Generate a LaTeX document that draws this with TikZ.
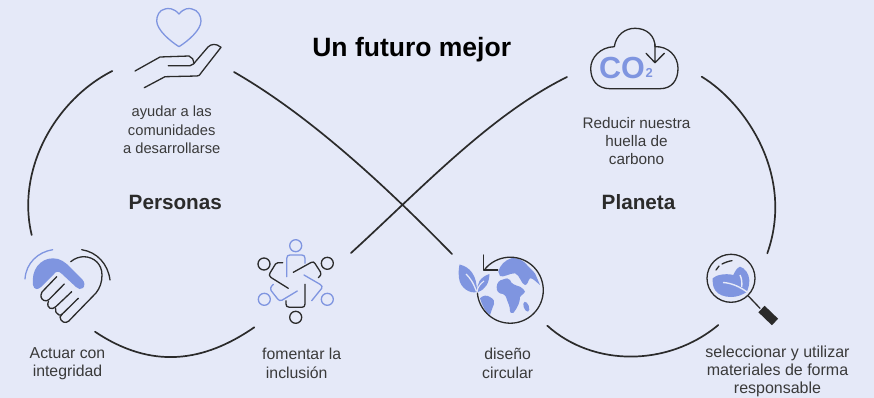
\documentclass[tikz,border=0pt]{standalone}
\usepackage{fontspec}
\setmainfont{Liberation Sans}
\definecolor{bg}{HTML}{E5E9F8}
\definecolor{blu}{HTML}{7F95E0}
\definecolor{ink}{HTML}{2B2B2B}
\definecolor{txt}{HTML}{3A3A3A}
\tikzset{
  arcline/.style={draw=ink,line width=1.7pt,line cap=round},
  inkline/.style={draw=ink,line width=1.3pt,line cap=round,line join=round},
  bluline/.style={draw=blu,line width=1.3pt,line cap=round,line join=round},
  captxt/.style={font=\fontsize{15.8}{18.4}\selectfont,align=center,text=txt,inner sep=0pt},
  headtxt/.style={font=\bfseries\fontsize{20.7}{24}\selectfont,text=ink,inner sep=0pt},
}
\begin{document}
\begin{tikzpicture}[x=1pt,y=-1pt]
\fill[bg] (0,0) rectangle (874,398);
\useasboundingbox (0,0) rectangle (874,398);
% texts
\node[font=\bfseries\fontsize{26.5}{30}\selectfont,text=black,inner sep=0pt] (title) at (411.7,49.5) {Un futuro mejor};
\node[headtxt] (personas) at (175.3,202) {Personas};
\node[headtxt] (planeta) at (638.5,202) {Planeta};
\node[captxt,font=\fontsize{14.7}{18.4}\selectfont] (t1) at (171.7,130) {ayudar a las\\comunidades\\a desarrollarse};
\node[captxt,font=\fontsize{15.3}{18.4}\selectfont] (t2) at (636.5,141) {Reducir nuestra\\huella de\\carbono};
\node[captxt] (t3) at (67.5,363.5) {Actuar con\\integridad};
\node[captxt] (t4) at (301.7,363.5) {fomentar la\\inclusión\hspace*{10pt}};
\node[captxt] (t5) at (507.6,363.5) {diseño\\circular};
\node[captxt,font=\fontsize{16}{18.4}\selectfont] (t6) at (777.5,371.3) {seleccionar y utilizar\\materiales de forma\\responsable};
% loop ends
\coordinate (a1) at (112.3,71); \coordinate (a2) at (31.7,235);
\coordinate (b1) at (95,331.7); \coordinate (b2) at (254.3,327.3);
\coordinate (c1) at (351,253); \coordinate (c2) at (567,77);
\coordinate (d1) at (234,72); \coordinate (d2) at (452,254);
\coordinate (e1) at (547.3,325.7); \coordinate (e2) at (718.3,325);
\coordinate (f1) at (701.7,76.7); \coordinate (f2) at (767.3,253.3);
\draw[arcline] (a1) .. controls (55,100) and (16,170) .. (a2);
\draw[arcline] (b1) .. controls (152,370) and (204,362) .. (b2);
\draw[arcline] (c1) .. controls (420,190) and (490,115) .. (c2);
\draw[arcline] (d1) .. controls (300,110) and (370,170) .. (d2);
\draw[arcline] (e1) .. controls (593,367) and (668,367) .. (e2);
\draw[arcline] (f1) .. controls (745,103) and (795,175) .. (f2);
% heart
\draw[bluline] (179,14) .. controls (174,8) and (168,8) .. (165,9) .. controls (159,10) and (156.7,16) .. (156.7,21) .. controls (157,30) and (170,41) .. (179,46.7) .. controls (188,41) and (201,30) .. (201,21) .. controls (201,16) and (198,10) .. (192,9) .. controls (189,8) and (184,8) .. (179,14) -- cycle;
% hand
\draw[inkline] (135,71) -- (160,57) -- (189,56) .. controls (192,57) and (194,60) .. (194,63);
\draw[inkline] (168.3,65.7) -- (190,65.7) .. controls (193,65) and (195,63) .. (196,61) -- (208,47) .. controls (211,44) and (216,43) .. (221,47.3) -- (201,73) .. controls (200,75) and (199,76) .. (197,76) -- (165,76.7) -- (144.3,87.7);
% cloud
\draw[inkline] (614.3,46.7) .. controls (616,35) and (625,28.3) .. (635,28.3) .. controls (647,28.3) and (655,36) .. (655,46.7) .. controls (668,46) and (678,56) .. (678,68.3) .. controls (678,80) and (672,88.7) .. (660,88.7) -- (610,88.7) .. controls (597,88.7) and (590.7,80) .. (590.7,68.3) .. controls (590.7,58) and (600,47) .. (614.3,46.7);
\draw[inkline] (655,44) -- (655,62.7) (646,53.3) -- (655,62.7) -- (664.3,53.3);
\node[font=\bfseries\fontsize{30.5}{32}\selectfont,text=blu,inner sep=0pt] (co) at (622,68.3) {CO};
\node[font=\bfseries\fontsize{13}{14}\selectfont,text=blu,inner sep=0pt] (two) at (649.3,73.3) {2};
% handshake
\fill[blu] (33,285) .. controls (31,270) and (40,258.3) .. (53,258.3) .. controls (60,258.3) and (65,262) .. (70,267) -- (82,279) .. controls (85,282) and (85,286) .. (83,288) .. controls (81,290) and (78,289) .. (76,287) -- (62,274) .. controls (59,271) and (56,271) .. (54,274) -- (41,287) .. controls (38,290) and (34,290) .. (33,285) -- cycle;
\draw[bluline] (25,279) .. controls (26,263) and (38,252) .. (52.7,249.7);
\draw[inkline] (81.7,249.7) .. controls (97,252) and (108,264) .. (110,280);
\draw[inkline] (70.7,261.7) .. controls (75,258) and (80,256.7) .. (84,256.7) .. controls (94,257) and (102,264) .. (102,275) .. controls (102,282) and (100,288) .. (96,293) -- (71.7,318) .. controls (68,323) and (64,324) .. (61,320) .. controls (59,318) and (60,316) .. (62.3,314) -- (78.3,298.3);
\draw[inkline] (56.7,276.7) -- (42,292) .. controls (40,296) and (41,299) .. (44,300.5) .. controls (46,301) and (47,301) .. (49,299.5) -- (64.3,284);
\draw[inkline] (48.5,301) .. controls (47,305) and (48,307.5) .. (50,308.3) .. controls (52,309) and (54,308.5) .. (56,306.5) -- (71.7,291.7);
\draw[inkline] (55.5,308) .. controls (55,311) and (56,314) .. (59,315) .. controls (60,315.5) and (61.5,315) .. (62.3,314);
% people
\draw[bluline] (295.7,245.7) circle[radius=6];
\draw[inkline] (264,264) circle[radius=6];
\draw[inkline] (327.3,263.3) circle[radius=6];
\draw[bluline] (264.3,299.3) circle[radius=6];
\draw[bluline] (327.3,299.3) circle[radius=6];
\draw[inkline] (295.7,317.3) circle[radius=6];
\draw[bluline] (286.7,276.7) -- (286.7,258.5) .. controls (286.7,256) and (288,255) .. (290,255) -- (301.7,255) .. controls (304,255) and (305,256) .. (305,258.5) -- (305,263.3);
\draw[inkline] (288.3,288.3) -- (271,277.5) .. controls (269,276) and (269,274.5) .. (270,273) -- (275.5,264) .. controls (276.5,262.7) and (277,262.7) .. (278,262.7) -- (282.7,262.7);
\draw[inkline] (293.3,272.3) -- (311,262.5) .. controls (313,261.5) and (314,262) .. (315,263.5) -- (320.5,272) .. controls (321.5,274) and (321,275) .. (318.3,277.7);
\draw[bluline] (304,275) -- (320,284.3) .. controls (322,285.5) and (322.5,287) .. (321.7,288.3) -- (311.7,300.7);
\draw[inkline] (305,284.3) -- (305,304) .. controls (305,306) and (304,307.3) .. (302,307.3) -- (289.5,307.3) .. controls (287,307.3) and (286,306) .. (286,304) -- (286,300.7);
\draw[bluline] (297.3,291) -- (282,300.2) .. controls (280,301) and (279,300.5) .. (277.7,299) -- (271,290.5) .. controls (270,289) and (270.5,287) .. (273.3,284.3);
% globe
\fill[blu] (498.3,271.7) .. controls (500,265) and (505,260) .. (512,258) .. controls (518,258) and (523,260) .. (527,265) -- (535,273.3) -- (540,285) .. controls (536,282) and (533,278) .. (530,278.3) .. controls (528,280) and (528,285) .. (525,285) .. controls (521,284) and (520,275) .. (515,273.3) .. controls (510,273) and (503,278) .. (500,276) -- cycle;
\fill[blu] (496.7,286.7) .. controls (497,283) and (499,280) .. (503,279.5) .. controls (506,278) and (509,278) .. (510,280) .. controls (511,284) and (515,285) .. (520,286.7) .. controls (522,288) and (525,290) .. (525,291.7) .. controls (523,295) and (521,295) .. (520,297) .. controls (520,302) and (518,307) .. (513.3,313) .. controls (511,313) and (510,313) .. (510,311) .. controls (510,306) and (508,303) .. (507,300) .. controls (506,296) and (505,295) .. (503,294) .. controls (499,294) and (496,291) .. (496.7,286.7) -- cycle;
\fill[blu] (480,298.3) .. controls (483,295) and (487,295) .. (490,297) .. controls (494,299) and (495,302) .. (494,304) .. controls (492,309) and (491,312) .. (490,315) .. controls (485,312) and (482,305) .. (480,298.3) -- cycle;
\fill[blu,rotate around={20:(526.3,306.7)}] (526.3,306.7) ellipse[x radius=2.6,y radius=5.2];
\draw[inkline] (485,269) arc[start angle=-140,end angle=175,radius=33];
\draw[inkline] (483.3,255) -- (483.3,270) -- (497.7,270);
\fill[blu] (459.5,264.5) .. controls (470,267) and (477,275) .. (477,292) .. controls (470,294) and (460,288) .. (459,278) .. controls (458.5,273) and (458.5,270) .. (459.5,264.5) -- cycle;
\fill[blu] (489.5,274) .. controls (489,283) and (486,289) .. (478,292) .. controls (476,284) and (480,277) .. (489.5,274) -- cycle;
\draw[draw=bg,line width=1.3pt] (466,274) .. controls (470,278) and (473,282) .. (476.5,291.5);
\draw[draw=bg,line width=1.1pt] (477,291) .. controls (478,287) and (480,284) .. (484,281);
% magnifier
\fill[blu] (712.7,278.3) .. controls (716,275) and (725,273) .. (733.3,275) .. controls (735,271) and (737,268) .. (740,266.7) .. controls (745,268) and (749,274) .. (749.3,280) .. controls (749.5,285) and (748,289) .. (746.7,292) .. controls (742,295) and (737,297) .. (731,297) .. controls (725,297) and (718,295) .. (715,290) .. controls (713,287) and (712.5,283) .. (712.7,278.3) -- cycle;
\draw[draw=bg,line width=1.4pt] (723,282.5) .. controls (732,283) and (740,287) .. (747,292);
\draw[draw=bg,line width=1.4pt] (740,275) .. controls (742,279) and (742,283) .. (741.7,287);
\draw[inkline] (731,278.3) circle[radius=24];
\draw[inkline] (716,270) -- (719,266) (722,264) .. controls (725,262.5) and (729,261) .. (732,260.7);
\draw[inkline] (748.3,296) -- (760,308.3);
\draw[draw=ink,line width=9pt] (761.5,309) -- (775,322);
\end{tikzpicture}
\end{document}
